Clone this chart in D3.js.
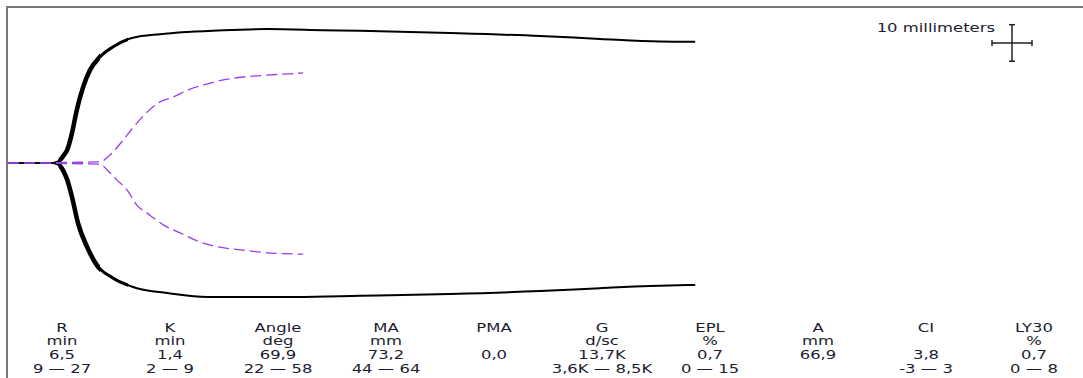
<!DOCTYPE html>
<html>
<head>
<meta charset="utf-8">
<script src="https://cdn.jsdelivr.net/npm/d3@7"></script>
<style>
  html, body { margin: 0; padding: 0; background: #fff; }
  svg { display: block; }
  text { font-family: "DejaVu Sans", Verdana, sans-serif; fill: #1c1c30; }
</style>
</head>
<body>
<svg id="chart" width="1083" height="378"></svg>
<script>
// ---- Data (time in minutes, deflection from centre in mm) ----
const blackTime  = [0, 5.5, 6.1, 6.5, 7.0, 7.4, 8.0, 8.6, 9.4, 10.25, 11.5, 13.1, 15.6, 19, 22.4, 26.9, 32.4, 39.4, 44, 55.25, 66.5, 74, 81.5, 85.9];
const blackUpper = [0, 0, 0.3, 0.8, 2.2, 3.6, 8.2, 14.5, 20.8, 25.4, 29.0, 31.7, 34.2, 35.2, 35.8, 36.3, 36.6, 36.3, 36.1, 35.5, 34.7, 33.9, 33.2, 33.1];
const blackLowerTime = [0, 5.5, 6.1, 6.5, 7.0, 7.4, 8.0, 8.75, 9.9, 11.1, 13.1, 16.1, 19.9, 24.9, 29, 36.1, 44, 55.25, 66.5, 74, 80.25, 85.9];
const blackLower = [0, 0, 0.3, 0.8, 2.5, 4.6, 9.3, 16.4, 23.0, 27.9, 31.4, 34.2, 35.5, 36.6, 36.6, 36.6, 36.3, 35.8, 35.0, 34.2, 33.6, 33.3];

const purpleUpperTime = [0, 11.5, 12.75, 14.4, 15.6, 17.4, 19, 20.6, 22.75, 24.9, 26.9, 29.4, 32.4, 36.9];
const purpleUpper     = [0, 0.3, 2.2, 6.3, 9.6, 13.9, 16.7, 18.0, 20.2, 21.6, 22.7, 23.5, 24.0, 24.6];
const purpleLowerTime = [0, 11.5, 12.4, 13.6, 14.9, 16.1, 17.4, 19.4, 21.5, 24, 26.5, 29.4, 32.75, 36.9];
const purpleLower     = [0, 0.3, 1.9, 4.6, 7.4, 11.5, 13.7, 16.9, 19.1, 21.6, 23.0, 23.8, 24.6, 24.9];

const paramNames  = ["R", "K", "Angle", "MA", "PMA", "G", "EPL", "A", "CI", "LY30"];
const paramUnits  = ["min", "min", "deg", "mm", "", "d/sc", "%", "mm", "", "%"];
const paramValues = ["6,5", "1,4", "69,9", "73,2", "0,0", "13,7K", "0,7", "66,9", "3,8", "0,7"];
const paramRanges = ["9 \u2014 27", "2 \u2014 9", "22 \u2014 58", "44 \u2014 64", "", "3,6K \u2014 8,5K", "0 \u2014 15", "", "-3 \u2014 3", "0 \u2014 8"];

const scaleLabel = "10 millimeters";
const scaleMM = 10;

// ---- Layout ----
const W = 1083, H = 378;
const svg = d3.select("#chart");
const fontSize = 11.5;
const stretch = 1.43;   // horizontal glyph stretch to match the reference face

const x = d3.scaleLinear().domain([0, 100]).range([8, 808]);          // 8 px per minute
const y = d3.scaleLinear().domain([-45, 45]).range([163 + 45 * 3.66, 163 - 45 * 3.66]);

// frame (top and left)
svg.append("line").attr("x1", 7).attr("x2", W).attr("y1", 7).attr("y2", 7)
  .attr("stroke", "#777").attr("stroke-width", 2);
svg.append("line").attr("x1", 7).attr("x2", 7).attr("y1", 6).attr("y2", H)
  .attr("stroke", "#777").attr("stroke-width", 2);

const lineGen = d3.line().x(d => x(d[0])).y(d => y(d[1])).curve(d3.curveMonotoneX);

const bu = blackTime.map((t, i) => [t, blackUpper[i]]);
const bl = blackLowerTime.map((t, i) => [t, -blackLower[i]]);
const pu = purpleUpperTime.map((t, i) => [t, purpleUpper[i]]);
const pl = purpleLowerTime.map((t, i) => [t, -purpleLower[i]]);

// clip regions for the thicker early part of the black trace
const defs = svg.append("defs");
defs.append("clipPath").attr("id", "thick1").append("rect")
  .attr("x", x(6.3)).attr("width", x(11.5) - x(6.3)).attr("y", 0).attr("height", H);
defs.append("clipPath").attr("id", "thick2").append("rect")
  .attr("x", x(11.5)).attr("width", x(15) - x(11.5)).attr("y", 0).attr("height", H);

const black = svg.append("g");
[bu, bl].forEach(d => {
  black.append("path").attr("d", lineGen(d)).attr("fill", "none")
    .attr("stroke", "#000").attr("stroke-width", 2);
  black.append("path").attr("d", lineGen(d)).attr("fill", "none")
    .attr("stroke", "#000").attr("stroke-width", 4.6).attr("clip-path", "url(#thick1)");
  black.append("path").attr("d", lineGen(d)).attr("fill", "none")
    .attr("stroke", "#000").attr("stroke-width", 3).attr("clip-path", "url(#thick2)");
});

// purple dashed trace
[pu, pl].forEach(d => {
  svg.append("path").attr("d", lineGen(d)).attr("fill", "none")
    .attr("stroke", "#9a3cf0").attr("stroke-width", 1.3)
    .attr("stroke-dasharray", "11,5");
});

// scale bar
const cx = 1012, cy = 43;
const hx = (x(scaleMM / 2) - x(0)) / 2;   // 10 mm at 2 mm/min
const hy = (y(0) - y(scaleMM)) / 2;
const sb = svg.append("g").attr("stroke", "#222").attr("stroke-width", 1.5);
sb.append("line").attr("x1", cx - hx).attr("x2", cx + hx).attr("y1", cy).attr("y2", cy);
sb.append("line").attr("x1", cx - hx).attr("x2", cx - hx).attr("y1", cy - 3).attr("y2", cy + 3);
sb.append("line").attr("x1", cx + hx).attr("x2", cx + hx).attr("y1", cy - 3).attr("y2", cy + 3);
sb.append("line").attr("x1", cx).attr("x2", cx).attr("y1", cy - hy).attr("y2", cy + hy);
sb.append("line").attr("x1", cx - 3).attr("x2", cx + 3).attr("y1", cy - hy).attr("y2", cy - hy);
sb.append("line").attr("x1", cx - 3).attr("x2", cx + 3).attr("y1", cy + hy).attr("y2", cy + hy);
svg.append("text").attr("transform", `translate(995,32) scale(${stretch},1)`)
  .attr("text-anchor", "end").attr("font-size", fontSize).text(scaleLabel);

// parameter table
const col = d3.scaleBand().domain(paramNames).range([8, 1088]);
const rows = [paramNames, paramUnits, paramValues, paramRanges];
const rowY = [331.5, 345.2, 358.9, 372.6];
const table = svg.append("g").attr("font-size", fontSize).attr("text-anchor", "middle");
rows.forEach((r, ri) => {
  table.selectAll(null).data(r).enter().append("text")
    .attr("transform", (d, i) =>
      `translate(${col(paramNames[i]) + col.bandwidth() / 2},${rowY[ri]}) scale(${stretch},1)`)
    .text(d => d);
});
</script>
</body>
</html>
